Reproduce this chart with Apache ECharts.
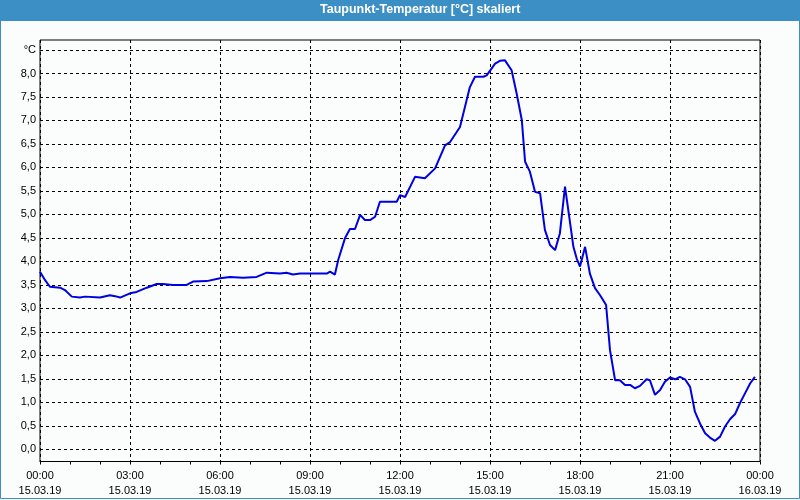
<!DOCTYPE html>
<html>
<head>
<meta charset="utf-8">
<script src="https://cdn.jsdelivr.net/npm/echarts@6/dist/echarts.min.js"></script>
<style>
html,body{margin:0;padding:0;background:#fafdfc;}
#chart{width:800px;height:500px;}
</style>
</head>
<body>
<div id="chart"></div>
<script>
var titleText = 'Taupunkt-Temperatur [°C] skaliert';
var hours = [0,0.17,0.33,0.67,0.83,1.06,1.33,1.5,2.0,2.33,
  2.5,2.67,3.0,3.22,3.56,3.89,4.1,4.43,4.89,5.1,
  5.56,6.0,6.33,6.77,7.22,7.56,8.0,8.22,8.43,8.67,
  9.0,9.56,9.67,9.83,9.94,10.17,10.33,10.5,10.67,10.83,
  11.0,11.17,11.33,11.78,11.89,12.0,12.17,12.5,12.83,13.17,
  13.5,13.67,14.0,14.22,14.33,14.5,14.78,14.89,15.17,15.33,
  15.5,15.72,15.89,16.06,16.17,16.33,16.5,16.67,16.83,17.0,
  17.17,17.33,17.5,17.61,17.78,17.89,18.0,18.17,18.33,18.5,
  18.67,18.87,19.0,19.17,19.33,19.5,19.67,19.83,20.0,20.22,
  20.33,20.5,20.67,20.83,21.0,21.17,21.33,21.5,21.67,21.83,
  22.0,22.17,22.33,22.5,22.67,22.83,23.0,23.17,23.33,23.5,
  23.67,23.83];
var dewPoint = [3.78,3.60,3.46,3.44,3.39,3.25,3.23,3.25,3.23,3.28,
  3.26,3.23,3.32,3.35,3.44,3.52,3.52,3.50,3.50,3.57,
  3.58,3.64,3.67,3.65,3.67,3.76,3.74,3.76,3.72,3.74,
  3.74,3.74,3.78,3.72,4.03,4.50,4.69,4.69,4.99,4.88,
  4.88,4.95,5.27,5.27,5.27,5.41,5.37,5.80,5.77,5.98,
  6.47,6.54,6.86,7.43,7.71,7.93,7.93,7.96,8.21,8.27,
  8.28,8.07,7.57,7.01,6.12,5.91,5.48,5.45,4.67,4.35,
  4.24,4.60,5.59,5.09,4.31,4.06,3.89,4.31,3.74,3.43,
  3.28,3.07,2.11,1.47,1.47,1.37,1.37,1.30,1.35,1.49,
  1.47,1.16,1.26,1.44,1.53,1.49,1.54,1.49,1.33,0.80,
  0.55,0.34,0.25,0.18,0.27,0.48,0.64,0.75,0.98,1.19,
  1.40,1.54];
var xTickHours = [0,3,6,9,12,15,18,21,24];
var xTickTimes = ['00:00','03:00','06:00','09:00','12:00','15:00','18:00','21:00','00:00'];
var xTickDates = ['15.03.19','15.03.19','15.03.19','15.03.19','15.03.19','15.03.19','15.03.19','15.03.19','16.03.19'];
var yUnitLabel = '°C';

var seriesData = hours.map(function (h, i) { return [h, dewPoint[i]]; });
var font = 'Liberation Sans, Arial, sans-serif';
var chart = echarts.init(document.getElementById('chart'), null, {renderer: 'canvas'});
chart.setOption({
  animation: false,
  backgroundColor: '#fafdfc',
  title: {
    text: titleText,
    left: 320,
    top: 3,
    padding: 0,
    textStyle: {color: '#ffffff', fontFamily: font, fontWeight: 'bold', fontSize: 12.5, lineHeight: 14}
  },
  graphic: [
    {type: 'rect', z: -10, shape: {x: 0, y: 0, width: 800, height: 21}, style: {fill: '#3c8fc4'}},
    {type: 'rect', z: 100, shape: {x: 0.5, y: 0.5, width: 799, height: 498}, style: {fill: null, stroke: '#3c8fc4', lineWidth: 1}}
  ],
  grid: [
    {left: 40, top: 50, width: 720, height: 399.3, show: false},
    {left: 40, top: 40, width: 720, height: 421.5, show: true, borderColor: '#000', borderWidth: 1, backgroundColor: 'transparent'}
  ],
  xAxis: [
    {gridIndex: 0, type: 'value', min: 0, max: 24, show: false, splitLine: {show: false}},
    {gridIndex: 1, type: 'value', min: 0, max: 24, interval: 3,
      axisLine: {show: true, lineStyle: {color: '#000'}},
      axisTick: {show: true, length: 3, lineStyle: {color: '#000'}},
      minorTick: {show: true, splitNumber: 3, length: 3, lineStyle: {color: '#000'}},
      splitLine: {show: true, lineStyle: {color: '#000', type: [3, 3], width: 1}},
      axisLabel: {
        margin: 7, color: '#000', fontFamily: font, fontSize: 11, lineHeight: 15,
        showMinLabel: true, showMaxLabel: true,
        formatter: function (v) {
          var i = xTickHours.indexOf(v);
          return i < 0 ? '' : xTickTimes[i] + '\n' + xTickDates[i];
        }
      }
    }
  ],
  yAxis: [
    {gridIndex: 0, type: 'value', min: 0, max: 8.5, interval: 0.5,
      axisLine: {show: false},
      axisTick: {show: false},
      splitLine: {show: true, lineStyle: {color: '#000', type: [3, 3], width: 1}},
      axisLabel: {
        margin: 4, color: '#000', fontFamily: font, fontSize: 11,
        formatter: function (v) {
          if (Math.abs(v - 8.5) < 1e-6) return yUnitLabel;
          return v.toFixed(1).replace('.', ',');
        }
      }
    },
    {gridIndex: 1, type: 'value', min: 0, max: 1, show: false, splitLine: {show: false}}
  ],
  series: [{
    type: 'line',
    xAxisIndex: 0, yAxisIndex: 0,
    data: seriesData,
    symbol: 'none',
    smooth: false,
    lineStyle: {color: '#0000e0', width: 2},
    z: 5
  }]
});
</script>
</body>
</html>
